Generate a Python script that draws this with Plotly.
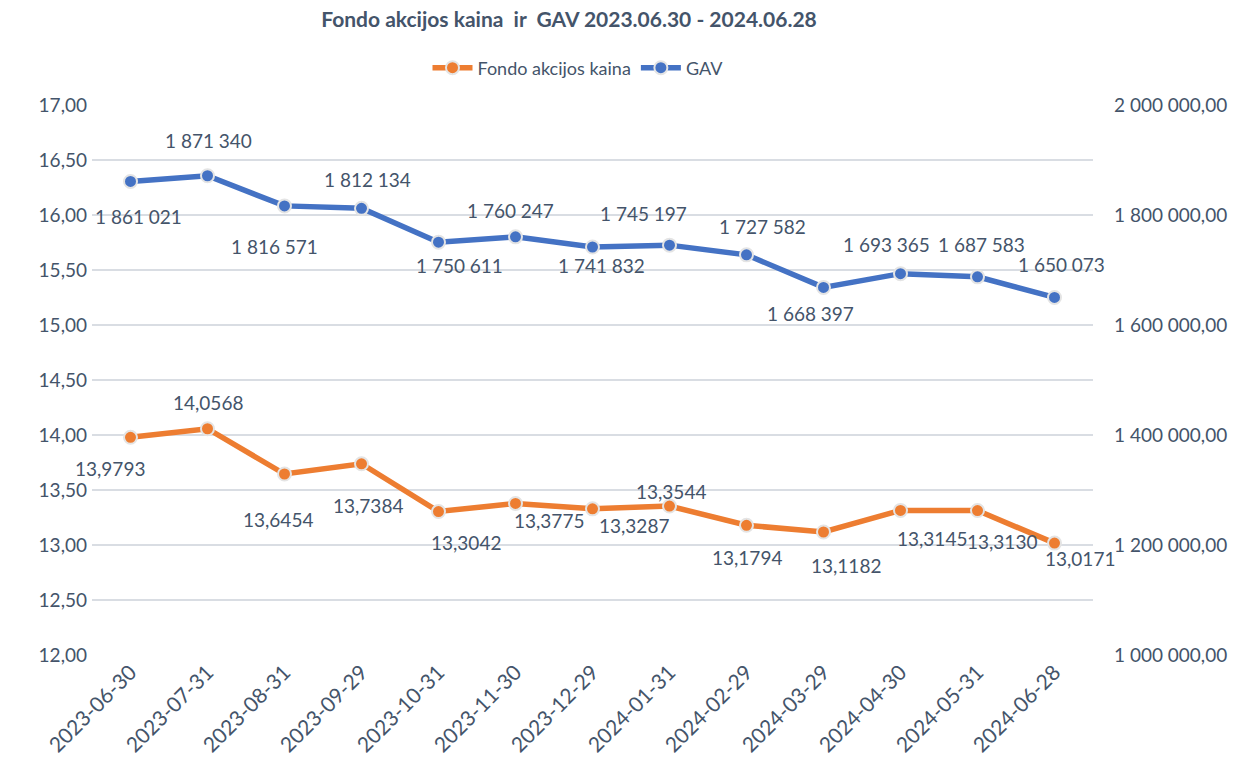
import plotly.graph_objects as go

dates = ["2023-06-30", "2023-07-31", "2023-08-31", "2023-09-29", "2023-10-31", "2023-11-30",
         "2023-12-29", "2024-01-31", "2024-02-29", "2024-03-29", "2024-04-30", "2024-05-31", "2024-06-28"]
kaina = [13.9793, 14.0568, 13.6454, 13.7384, 13.3042, 13.3775, 13.3287, 13.3544,
         13.1794, 13.1182, 13.3145, 13.3130, 13.0171]
gav = [1861021, 1871340, 1816571, 1812134, 1750611, 1760247, 1741832, 1745197,
       1727582, 1668397, 1693365, 1687583, 1650073]

TXT = "#44546A"
ORANGE = "#ED7D31"
BLUE = "#4472C4"
FONT = "Lato"

# label offsets (style): (dx, dy) in px, dy positive = down on screen
kaina_off = [(-21, 31), (0, -26), (-7, 45), (6, 42), (27, 31), (33, 17), (41, 17),
             (1, -15), (0, 32), (22, 33), (31, 28), (24, 31), (25, 15)]
gav_off = [(8, 35), (1, -35), (-10, 41), (6, -29), (21, 23), (-5, -26), (9, 19),
           (-26, -32), (16, -28), (-13, 26), (-14, -29), (4, -32), (7, -33)]

fig = go.Figure()
fig.add_trace(go.Scatter(
    x=dates, y=kaina, name="Fondo akcijos kaina", mode="lines+markers",
    line=dict(color=ORANGE, width=5.5),
    marker=dict(color=ORANGE, size=13, line=dict(color="#E4E4E4", width=2)),
    yaxis="y"))
fig.add_trace(go.Scatter(
    x=dates, y=gav, name="GAV", mode="lines+markers",
    line=dict(color=BLUE, width=5.5),
    marker=dict(color=BLUE, size=13, line=dict(color="#E4E4E4", width=2)),
    yaxis="y2"))

ann = []
for d, v, (dx, dy) in zip(dates, kaina, kaina_off):
    ann.append(dict(x=d, y=v, xref="x", yref="y", text=f"{v:.4f}".replace(".", ","),
                    showarrow=False, xshift=dx, yshift=-dy,
                    font=dict(family=FONT, size=19, color=TXT)))
for d, v, (dx, dy) in zip(dates, gav, gav_off):
    ann.append(dict(x=d, y=v, xref="x", yref="y2", text=f"{v:,}".replace(",", " "),
                    showarrow=False, xshift=dx, yshift=-dy,
                    font=dict(family=FONT, size=19, color=TXT)))

fig.update_layout(
    width=1253, height=766,
    paper_bgcolor="white", plot_bgcolor="white",
    separators=", ",
    margin=dict(l=92, r=160, t=105, b=111, autoexpand=False),
    font=dict(family=FONT, color=TXT, size=19),
    title=dict(text="<b>Fondo akcijos kaina  ir  GAV 2023.06.30 - 2024.06.28</b>",
               x=569 / 1253, xanchor="center", xref="container",
               y=1 - 20 / 766, yanchor="middle", yref="container",
               font=dict(family=FONT, size=21, color=TXT)),
    legend=dict(orientation="h", x=578 / 1253, xanchor="center", xref="container",
                y=1 - 68 / 766, yanchor="middle", yref="container",
                font=dict(family=FONT, size=18, color=TXT), itemwidth=40,
                bgcolor="rgba(0,0,0,0)", traceorder="normal"),
    xaxis=dict(type="category", range=[-0.5, len(dates) - 0.5], tickangle=-45,
               showgrid=False, zeroline=False,
               showline=False, ticks="", automargin=False,
               tickfont=dict(family=FONT, size=21, color=TXT)),
    yaxis=dict(range=[12, 17], dtick=0.5, tick0=12, tickformat=".2f",
               showgrid=True, gridcolor="#D9DDE3", gridwidth=1.5, zeroline=False,
               showline=False, ticks="", ticklabelstandoff=4, automargin=False,
               tickfont=dict(family=FONT, size=19, color=TXT)),
    yaxis2=dict(range=[1000000, 2000000], dtick=200000, tick0=1000000, tickformat=",.2f",
                overlaying="y", side="right", showgrid=False, zeroline=False,
                showline=False, ticks="", ticklabelstandoff=20, automargin=False,
                tickfont=dict(family=FONT, size=19, color=TXT)),
    annotations=ann,
    showlegend=True,
)

fig.write_html("out.html")
